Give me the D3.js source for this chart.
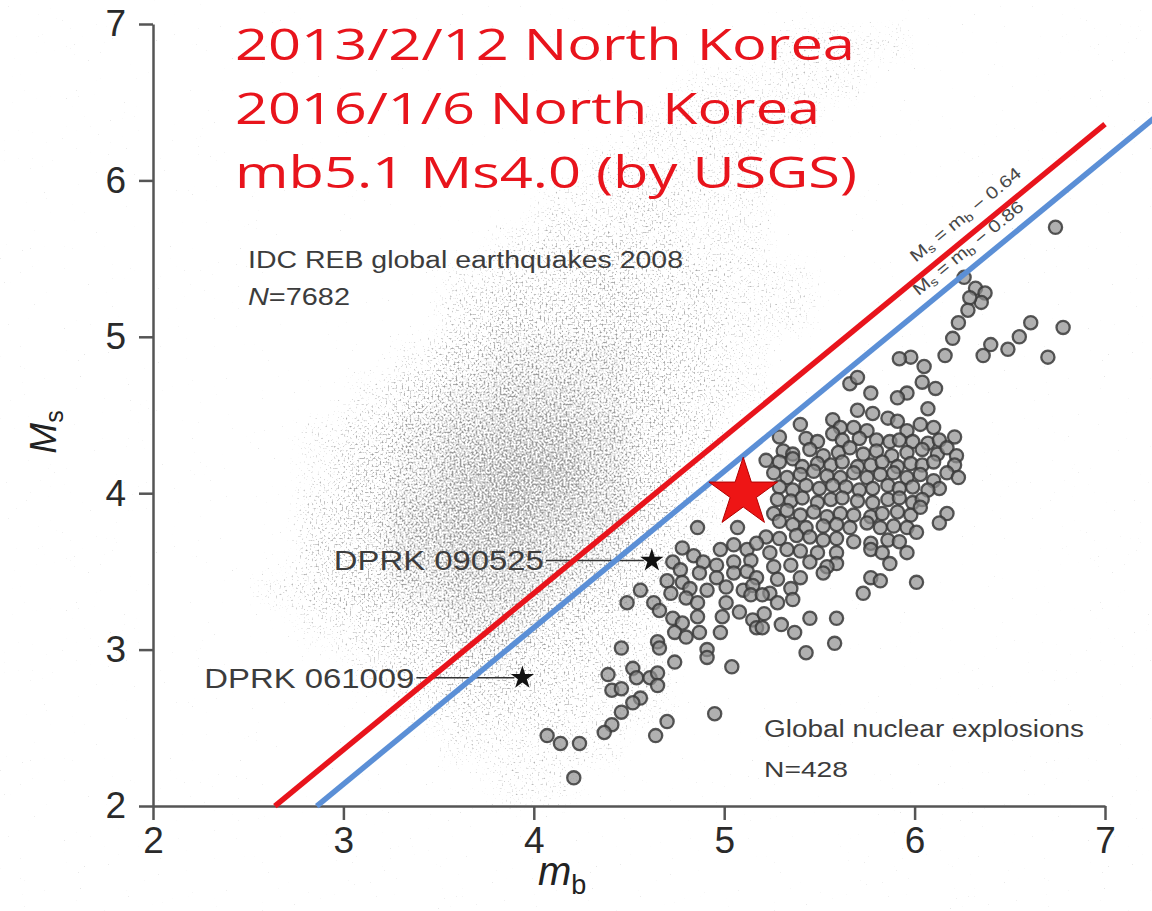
<!DOCTYPE html>
<html>
<head>
<meta charset="utf-8">
<script src="https://cdn.jsdelivr.net/npm/d3@7"></script>
<style>
body { margin: 0; background: #fff; }
svg { display: block; }
.axis path, .axis line { stroke: #555; stroke-width: 2.5px; }
.axis text { font-family: "Liberation Sans", Arial, sans-serif; font-size: 37px; fill: #2a2a2a; }
.note { font-family: "Liberation Sans", Arial, sans-serif; fill: #3c3c3c; }
.title { font-family: "Open Sans", sans-serif; font-size: 44px; fill: #e8141c; }
</style>
</head>
<body>
<div id="chart"></div>
<script>
// mb / Ms discrimination plot, IDC earthquakes vs nuclear explosions

var ticks = [2, 3, 4, 5, 6, 7];

var titleLines = [
	"2013/2/12 North Korea",
	"2016/1/6 North Korea",
	"mb5.1 Ms4.0 (by USGS)"
];

// earthquake cloud, relative density per 0.25 x 0.25 cell
var cloudMb = [2.625, 2.875, 3.125, 3.375, 3.625, 3.875, 4.125, 4.375, 4.625, 4.875, 5.125, 5.375, 5.625, 5.875];
var cloudMs = [6.875, 6.625, 6.375, 6.125, 5.875, 5.625, 5.375, 5.125, 4.875, 4.625, 4.375, 4.125, 3.875, 3.625, 3.375, 3.125, 2.875, 2.625, 2.375, 2.125];
var cloudDensity = [
	[0, 0, 0, 0, 0, 0, 0, 0, 0, 0, 0, 1, 1, 1],
	[0, 0, 0, 0, 0, 0, 0, 0, 0, 1, 1, 1, 1, 0],
	[0, 0, 0, 0, 0, 0, 0, 0, 1, 1, 1, 1, 0, 0],
	[0, 0, 0, 0, 0, 0, 0, 1, 1, 1, 1, 0, 0, 0],
	[0, 0, 0, 0, 0, 0, 1, 1, 2, 1, 1, 0, 0, 0],
	[0, 0, 0, 0, 0, 1, 2, 2, 2, 1, 1, 0, 0, 0],
	[0, 0, 0, 0, 1, 2, 2, 3, 2, 2, 1, 1, 0, 0],
	[0, 0, 0, 0, 2, 3, 3, 3, 3, 2, 1, 1, 0, 0],
	[0, 0, 0, 1, 3, 4, 4, 4, 3, 2, 1, 0, 0, 0],
	[0, 0, 1, 3, 4, 5, 5, 4, 3, 2, 1, 0, 0, 0],
	[0, 1, 2, 4, 5, 6, 6, 5, 3, 2, 0, 0, 0, 0],
	[0, 1, 3, 4, 6, 7, 7, 5, 3, 1, 0, 0, 0, 0],
	[0, 2, 3, 5, 6, 7, 6, 5, 3, 1, 0, 0, 0, 0],
	[0, 2, 3, 5, 6, 6, 5, 4, 2, 1, 0, 0, 0, 0],
	[1, 2, 3, 4, 5, 5, 4, 3, 2, 1, 0, 0, 0, 0],
	[0, 1, 2, 3, 4, 4, 3, 2, 1, 0, 0, 0, 0, 0],
	[0, 0, 1, 2, 3, 3, 2, 2, 1, 0, 0, 0, 0, 0],
	[0, 0, 0, 1, 2, 2, 2, 1, 1, 0, 0, 0, 0, 0],
	[0, 0, 0, 0, 1, 1, 1, 1, 0, 0, 0, 0, 0, 0],
	[0, 0, 0, 0, 0, 1, 1, 0, 0, 0, 0, 0, 0, 0]
];

// global nuclear explosions [mb, Ms]
var explosions = [
	[6.74,5.70],[6.26,5.38],[6.32,5.31],[6.37,5.28],[6.35,5.22],[6.29,5.25],[6.28,5.17],[6.23,5.09],[6.61,5.09],[6.78,5.06],
	[6.55,5.00],[6.20,4.99],[6.40,4.95],[6.36,4.88],[6.49,4.92],[6.70,4.87],[6.16,4.88],[5.98,4.87],[5.92,4.86],[6.05,4.81],
	[6.04,4.71],[6.11,4.67],[5.96,4.64],[6.07,4.54],[5.91,4.61],[5.77,4.64],[5.66,4.70],[5.70,4.74],
	[5.70,4.53],[5.78,4.51],[5.86,4.48],[5.91,4.46],[5.57,4.47],[5.61,4.42],[5.68,4.42],[5.75,4.40],[5.96,4.40],[6.03,4.44],[6.10,4.42],
	[5.40,4.44],[5.29,4.36],[5.43,4.35],[5.49,4.33],[5.57,4.38],[5.62,4.34],[5.71,4.35],[5.80,4.34],[5.87,4.33],[5.92,4.34],
	[5.99,4.33],[6.07,4.32],[6.13,4.34],[6.21,4.36],
	[5.31,4.27],[5.36,4.25],[5.45,4.28],[5.52,4.24],[5.60,4.26],[5.66,4.29],[5.73,4.25],[5.80,4.27],[5.88,4.24],[5.96,4.26],
	[6.04,4.28],[6.12,4.25],[6.17,4.29],[6.22,4.24],
	[5.22,4.21],[5.29,4.20],[5.36,4.22],[5.41,4.17],[5.49,4.19],[5.56,4.18],[5.62,4.20],[5.70,4.17],[5.77,4.18],[5.83,4.20],
	[5.91,4.17],[5.98,4.19],[6.04,4.18],[6.10,4.20],[6.21,4.18],[6.17,4.13],[6.23,4.10],
	[5.26,4.13],[5.33,4.10],[5.40,4.12],[5.47,4.14],[5.54,4.11],[5.61,4.10],[5.68,4.13],[5.75,4.10],[5.82,4.12],[5.89,4.13],
	[5.96,4.10],[6.03,4.12],[6.10,4.08],[6.13,4.03],
	[5.29,4.04],[5.36,4.02],[5.43,4.05],[5.50,4.03],[5.57,4.05],[5.64,4.04],[5.71,4.02],[5.78,4.03],[5.86,4.05],[5.92,4.03],
	[5.99,4.04],[6.07,4.02],
	[5.28,3.96],[5.35,3.95],[5.41,3.97],[5.49,3.94],[5.56,3.96],[5.62,3.97],[5.70,3.95],[5.78,3.94],[5.86,3.96],[5.92,3.97],
	[5.99,3.94],[6.04,3.96],
	[5.26,3.87],[5.33,3.89],[5.40,3.86],[5.47,3.88],[5.54,3.85],[5.61,3.87],[5.68,3.86],[5.77,3.85],[5.83,3.87],[5.91,3.88],
	[5.98,3.86],[6.03,3.91],[6.17,3.87],[6.13,3.81],
	[5.29,3.82],[5.36,3.80],[5.43,3.78],[5.52,3.79],[5.59,3.80],[5.66,3.78],[5.75,3.81],[5.82,3.78],[5.89,3.79],[5.96,3.78],[6.01,3.75],
	[5.22,3.72],[5.29,3.71],[5.38,3.73],[5.45,3.72],[5.52,3.70],[5.59,3.71],[5.68,3.69],[5.77,3.68],[5.86,3.70],[5.92,3.69],
	[5.24,3.62],[5.33,3.64],[5.40,3.63],[5.49,3.62],[5.59,3.62],[5.59,3.55],[5.77,3.64],[5.83,3.62],[5.87,3.55],[5.96,3.62],
	[5.26,3.53],[5.35,3.54],[5.45,3.56],[5.54,3.53],
	[5.28,3.45],[5.40,3.46],[5.52,3.49],[5.77,3.46],[5.82,3.44],[6.01,3.43],[5.73,3.36],[5.24,3.36],[5.35,3.39],
	[4.86,3.78],[5.07,3.78],[4.78,3.65],[4.84,3.60],[4.98,3.64],[5.05,3.67],[5.12,3.64],[5.17,3.68],
	[4.73,3.56],[4.77,3.51],[4.89,3.56],[4.96,3.54],[5.05,3.56],[5.14,3.57],
	[4.70,3.44],[4.78,3.43],[4.87,3.49],[4.96,3.46],[5.05,3.49],[5.12,3.50],[5.17,3.46],
	[4.56,3.38],[4.72,3.36],[4.82,3.39],[4.91,3.38],[5.01,3.40],[5.10,3.38],[5.15,3.41],
	[4.49,3.30],[4.63,3.30],[4.66,3.25],[4.80,3.33],[4.86,3.30],[5.01,3.30],
	[4.73,3.20],[4.78,3.17],[4.86,3.21],[4.74,3.11],[4.80,3.08],[4.87,3.11],[4.98,3.11],[4.99,3.21],[5.08,3.24],[5.15,3.19],
	[5.17,3.14],[5.14,3.35],
	[4.91,3.00],[4.91,2.95],[4.65,3.05],[4.66,3.01],[4.74,2.92],[4.46,3.01],[5.04,2.89],
	[4.39,2.84],[4.52,2.88],[4.54,2.82],[4.61,2.82],[4.65,2.85],[4.65,2.77],[4.41,2.74],[4.46,2.75],[4.56,2.69],[4.52,2.66],
	[4.46,2.60],[4.41,2.52],[4.37,2.47],[4.70,2.54],[4.64,2.45],[4.95,2.59],
	[4.24,2.40],[4.14,2.40],[4.07,2.45],[4.21,2.18],
	[5.45,3.20],[5.59,3.20],[5.30,3.16],[5.37,3.11],[5.43,2.98],[5.58,3.04],[5.20,3.35],[5.28,3.30],[5.36,3.32],[5.21,3.23],[5.20,3.14]
];

var dprkEvents = [
	{name: "DPRK 090525", mb: 4.62, ms: 3.57},
	{name: "DPRK 061009", mb: 3.94, ms: 2.82}
];

var koreaEvent = {mb: 5.1, ms: 4.0};

// Ms = mb - offset
var boundaries = [
	{offset: 0.64, from: 2.64, to: 7.0, labelAt: 6.05, label: "0.64"},
	{offset: 0.86, from: 2.86, to: 7.3, labelAt: 6.06, label: "0.86"}
];

var x = d3.scaleLinear().domain([2, 7]).range([153, 1105]);
var y = d3.scaleLinear().domain([2, 7]).range([806, 24]);

var svg = d3.select("#chart").append("svg")
	.attr("width", 1152).attr("height", 911);

// grainy texture for the earthquake cloud: density decides how much noise passes
var filter = svg.append("defs").append("filter")
	.attr("id", "grain")
	.attr("filterUnits", "userSpaceOnUse")
	.attr("color-interpolation-filters", "sRGB")
	.attr("x", 0).attr("y", 0).attr("width", 1152).attr("height", 911);
filter.append("feGaussianBlur")
	.attr("in", "SourceGraphic").attr("stdDeviation", 12).attr("result", "soft");
filter.append("feTurbulence")
	.attr("type", "fractalNoise").attr("baseFrequency", 0.5)
	.attr("numOctaves", 1).attr("seed", 4).attr("result", "noise");
filter.append("feColorMatrix")
	.attr("in", "noise").attr("type", "matrix")
	.attr("values", "0 0 0 0 0  0 0 0 0 0  0 0 0 0 0  1 0 0 0 0")
	.attr("result", "nalpha");
filter.append("feComposite")
	.attr("in", "soft").attr("in2", "nalpha").attr("operator", "arithmetic")
	.attr("k1", 0).attr("k2", 1.45).attr("k3", 3.5).attr("k4", -2.72)
	.attr("result", "mask");
filter.append("feFlood").attr("flood-color", "#9a9a9a").attr("result", "ink");
filter.append("feComposite").attr("in", "ink").attr("in2", "mask").attr("operator", "in");

var cells = [];
cloudMs.forEach(function(ms, i) {
	cloudMb.forEach(function(mb, j) {
		if (cloudDensity[i][j] > 0) cells.push({mb: mb, ms: ms, d: cloudDensity[i][j]});
	});
});

var half = 0.125;
svg.append("g")
	.attr("filter", "url(#grain)")
	.selectAll("rect")
	.data(cells)
	.enter().append("rect")
	.attr("x", function(d) { return x(d.mb - half); })
	.attr("y", function(d) { return y(d.ms + half); })
	.attr("width", function(d) { return x(d.mb + half) - x(d.mb - half); })
	.attr("height", function(d) { return y(d.ms - half) - y(d.ms + half); })
	.attr("fill", "#000")
	.attr("fill-opacity", function(d) { return Math.sqrt(d.d / 7); });

// axes
svg.append("g")
	.attr("class", "axis")
	.attr("transform", "translate(0," + y(2) + ")")
	.call(d3.axisBottom(x).tickValues(ticks).tickSize(14).tickSizeOuter(0).tickPadding(7).tickFormat(d3.format("d")));

svg.append("g")
	.attr("class", "axis")
	.attr("transform", "translate(" + x(2) + ",0)")
	.call(d3.axisLeft(y).tickValues(ticks).tickSize(14).tickSizeOuter(0).tickPadding(13).tickFormat(d3.format("d")));

var ylab = svg.append("text")
	.attr("class", "note")
	.attr("transform", "translate(56,432) rotate(-90)")
	.attr("text-anchor", "middle")
	.style("fill", "#222");
ylab.append("tspan").style("font-size", "37px").style("font-style", "italic").text("M");
ylab.append("tspan").style("font-size", "25px").attr("dy", 7).text("s");

var xlab = svg.append("text")
	.attr("class", "note")
	.attr("x", 538).attr("y", 885)
	.style("fill", "#222");
xlab.append("tspan").style("font-size", "40px").style("font-style", "italic").text("m");
xlab.append("tspan").style("font-size", "27px").attr("dy", 9).text("b");

// explosions
svg.append("g")
	.selectAll("circle")
	.data(explosions)
	.enter().append("circle")
	.attr("cx", function(d) { return x(d[0]); })
	.attr("cy", function(d) { return y(d[1]); })
	.attr("r", 6.6)
	.attr("fill", "#8e8e8e").attr("fill-opacity", 0.7)
	.attr("stroke", "#3a3a3a").attr("stroke-opacity", 0.85).attr("stroke-width", 2.3);

// DPRK events with leader lines
var star = d3.symbol().type(d3.symbolStar);

var dprk = svg.append("g").selectAll("g")
	.data(dprkEvents)
	.enter().append("g");
dprk.append("line")
	.attr("x1", function(d) { return x(d.mb) - 106; })
	.attr("x2", function(d) { return x(d.mb) - 8; })
	.attr("y1", function(d) { return y(d.ms); })
	.attr("y2", function(d) { return y(d.ms); })
	.attr("stroke", "#333").attr("stroke-width", 1.6);
dprk.append("path")
	.attr("d", star.size(170))
	.attr("transform", function(d) { return "translate(" + x(d.mb) + "," + y(d.ms) + ")"; })
	.attr("fill", "#111");
dprk.append("text")
	.attr("class", "note")
	.attr("x", function(d) { return x(d.mb) - 108; })
	.attr("y", function(d) { return y(d.ms) + 10; })
	.attr("text-anchor", "end")
	.attr("textLength", 210)
	.attr("lengthAdjust", "spacingAndGlyphs")
	.style("font-size", "28px")
	.text(function(d) { return d.name; });

// dataset notes
function note(tx, ty, size, width, parts) {
	var t = svg.append("text").attr("class", "note")
		.attr("x", tx).attr("y", ty)
		.attr("textLength", width).attr("lengthAdjust", "spacingAndGlyphs")
		.style("font-size", size + "px");
	parts.forEach(function(p) {
		t.append("tspan").style("font-style", p[1] ? "italic" : null).text(p[0]);
	});
}
note(248, 268, 23, 435, [["IDC REB global earthquakes 2008"]]);
note(248, 305, 23, 102, [["N", true], ["=7682"]]);
note(764, 737, 23, 320, [["Global nuclear explosions"]]);
note(764, 777, 22, 84, [["N=428"]]);

// boundary labels and lines
var angle = -Math.atan((y(2) - y(3)) / (x(3) - x(2))) * 180 / Math.PI;
var lineColors = ["#e8141c", "#5b8fd6"];
var labelOffsets = [13, 12];

boundaries.forEach(function(b, i) {
	var lab = svg.append("text")
		.attr("class", "note")
		.attr("transform", "translate(" + x(b.labelAt) + "," + y(b.labelAt - b.offset) + ") rotate(" + angle + ")")
		.attr("y", -labelOffsets[i])
		.attr("textLength", 138).attr("lengthAdjust", "spacingAndGlyphs")
		.style("font-size", "17px").style("fill", "#474747");
	lab.append("tspan").text("M");
	lab.append("tspan").style("font-size", "12px").attr("dy", 3).text("s");
	lab.append("tspan").attr("dy", -3).text(" = m");
	lab.append("tspan").style("font-size", "12px").attr("dy", 3).text("b");
	lab.append("tspan").attr("dy", -3).text(" \u2212 " + b.label);
});

boundaries.forEach(function(b, i) {
	svg.append("line")
		.attr("x1", x(b.from)).attr("y1", y(b.from - b.offset))
		.attr("x2", x(b.to)).attr("y2", y(b.to - b.offset))
		.attr("stroke", lineColors[i]).attr("stroke-width", 5.5);
});

// 2013 / 2016 North Korea event
svg.append("path")
	.attr("d", star.size(1460))
	.attr("transform", "translate(" + x(koreaEvent.mb) + "," + y(koreaEvent.ms) + ")")
	.attr("fill", "#ee1515").attr("stroke", "#b00000").attr("stroke-width", 1);

var titleWidths = [620, 585, 622];
svg.selectAll(".title")
	.data(titleLines)
	.enter().append("text")
	.attr("class", "title")
	.attr("x", 235)
	.attr("y", function(d, i) { return 60 + i * 64; })
	.attr("textLength", function(d, i) { return titleWidths[i]; })
	.attr("lengthAdjust", "spacingAndGlyphs")
	.text(function(d) { return d; });
</script>
</body>
</html>
